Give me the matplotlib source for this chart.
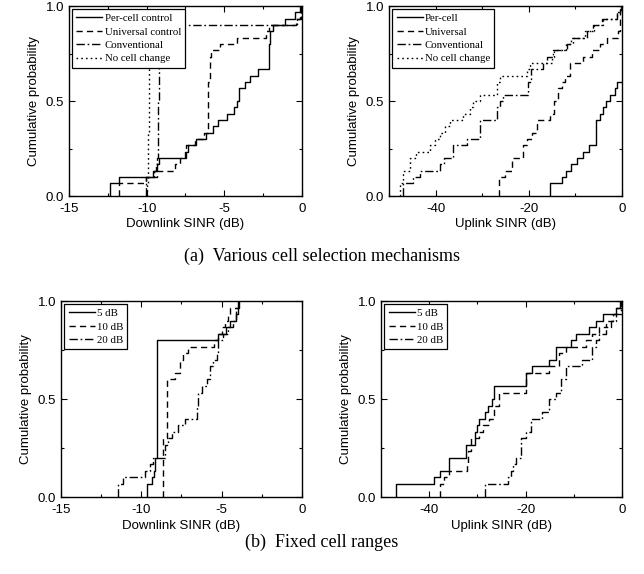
import numpy as np
import matplotlib
matplotlib.use('Agg')
import matplotlib.pyplot as plt
from matplotlib.ticker import MultipleLocator, FormatStrFormatter

plt.rcParams['font.family'] = 'Liberation Sans'
plt.rcParams['axes.unicode_minus'] = False

# (a) Downlink SINR, various cell selection mechanisms
dl_percell_x = [-12.35, -11.8, -9.6, -9.35, -9.2, -7.55, -7.35, -6.85, -6.2, -5.75, -5.4, -4.85,
                -4.35, -4.2, -4.05, -3.7, -3.35, -2.85, -2.15, -2.05, -1.85, -1.1, -0.45, -0.05]
dl_percell_y = [0.067, 0.1, 0.133, 0.167, 0.2, 0.233, 0.267, 0.3, 0.333, 0.367, 0.4, 0.433,
                0.467, 0.5, 0.567, 0.6, 0.633, 0.667, 0.8, 0.867, 0.9, 0.933, 0.967, 1.0]
dl_universal_x = [-11.8, -10.05, -9.35, -8.15, -7.85, -7.45, -6.9, -6.3, -6.05, -5.95, -5.85, -5.3,
                  -4.2, -2.35, -2.1, -0.4, -0.1]
dl_universal_y = [0.067, 0.1, 0.133, 0.167, 0.2, 0.267, 0.3, 0.333, 0.6, 0.733, 0.767, 0.8,
                  0.833, 0.867, 0.9, 0.933, 1.0]
dl_conv_x = [-10.05, -9.55, -9.4, -9.3, -9.28, -9.26, -9.24, -9.22, -9.2, -9.18, -9.15, -0.35, -0.05]
dl_conv_y = [0.1, 0.133, 0.167, 0.2, 0.3, 0.4, 0.5, 0.6, 0.7, 0.8, 0.9, 0.933, 1.0]
dl_nochange_x = [-9.95, -9.93, -9.9, -9.88, -9.86, -9.84, -9.82, -9.8, -9.78]
dl_nochange_y = [0.067, 0.133, 0.2, 0.333, 0.5, 0.667, 0.8, 0.9, 1.0]

# (a) Uplink SINR
ul_percell_x = [-15.5, -12.9, -12.1, -11.0, -9.6, -8.3, -7.0, -5.6, -5.5, -4.7, -4.0, -3.4,
                -2.6, -1.5, -1.0, -0.2, 2.0]
ul_percell_y = [0.067, 0.1, 0.133, 0.167, 0.2, 0.233, 0.267, 0.333, 0.4, 0.433, 0.467, 0.5,
                0.533, 0.567, 0.6, 0.6, 1.0]
ul_universal_x = [-26.4, -25.1, -23.7, -21.2, -20.4, -19.4, -18.3, -15.5, -14.7, -13.7, -12.9,
                  -12.2, -11.2, -8.4, -6.5, -4.7, -3.3, -0.8, -0.4]
ul_universal_y = [0.1, 0.133, 0.2, 0.267, 0.3, 0.333, 0.4, 0.433, 0.5, 0.567, 0.6,
                  0.633, 0.7, 0.733, 0.767, 0.8, 0.833, 0.867, 1.0]
ul_conv_x = [-46.9, -44.8, -43.3, -39.1, -38.3, -36.2, -33.3, -30.5, -26.9, -26.2, -25.5,
             -20.1, -19.6, -16.9, -16.2, -14.8, -11.9, -10.9, -7.6, -6.2, -4.4, -1.2, -0.3]
ul_conv_y = [0.067, 0.1, 0.133, 0.167, 0.2, 0.267, 0.3, 0.4, 0.467, 0.5, 0.533,
             0.6, 0.667, 0.7, 0.733, 0.767, 0.8, 0.833, 0.867, 0.9, 0.933, 0.967, 1.0]
ul_nochange_x = [-47.6, -46.9, -45.5, -44.1, -41.2, -40.1, -39.1, -38.0, -36.9, -34.1, -32.6,
                 -31.9, -30.5, -26.9, -26.2, -20.5, -19.8, -15.1, -14.6, -12.0, -10.5, -8.0,
                 -6.0, -4.2, -1.0, -0.2]
ul_nochange_y = [0.067, 0.133, 0.2, 0.233, 0.267, 0.3, 0.333, 0.367, 0.4, 0.433, 0.467,
                 0.5, 0.533, 0.6, 0.633, 0.667, 0.7, 0.733, 0.767, 0.8, 0.833, 0.867,
                 0.9, 0.933, 0.967, 1.0]

# (b) Downlink SINR, fixed cell ranges
dl5_x = [-9.63, -9.36, -9.2, -9.15, -9.05, -5.22, -4.7, -4.5, -4.08, -3.98, -3.9]
dl5_y = [0.067, 0.1, 0.133, 0.2, 0.8, 0.833, 0.867, 0.9, 0.933, 0.967, 1.0]
dl10_x = [-8.63, -8.42, -7.9, -7.6, -7.39, -7.07, -5.5, -5.2, -5.0, -4.8, -4.59, -4.45, -4.0]
dl10_y = [0.3, 0.6, 0.633, 0.7, 0.733, 0.767, 0.8, 0.833, 0.867, 0.9, 0.933, 0.967, 1.0]
dl20_x = [-11.43, -11.12, -9.77, -9.46, -9.25, -8.52, -8.32, -8.11, -7.7, -7.28, -6.55, -6.45,
          -6.24, -5.93, -5.72, -5.52, -5.31, -5.2, -4.9, -4.6, -4.3, -4.1, -3.95]
dl20_y = [0.067, 0.1, 0.133, 0.167, 0.2, 0.267, 0.3, 0.333, 0.367, 0.4, 0.467, 0.533,
          0.567, 0.6, 0.667, 0.7, 0.733, 0.8, 0.833, 0.867, 0.9, 0.967, 1.0]

# (b) Uplink SINR
ul5_x = [-46.8, -39.0, -37.7, -35.8, -32.4, -30.4, -30.0, -29.6, -28.4, -27.7, -27.0, -26.5,
         -19.9, -18.7, -15.1, -13.7, -10.6, -9.6, -6.8, -5.4, -4.0, -1.2, -0.4]
ul5_y = [0.067, 0.1, 0.133, 0.2, 0.267, 0.333, 0.367, 0.4, 0.433, 0.467, 0.5, 0.567,
         0.633, 0.667, 0.7, 0.767, 0.8, 0.833, 0.867, 0.9, 0.933, 0.967, 1.0]
ul10_x = [-37.7, -36.9, -35.8, -32.2, -31.9, -31.3, -29.6, -28.9, -27.5, -26.5, -25.5,
          -19.9, -15.1, -13.0, -11.6, -7.5, -6.1, -4.7, -3.3, -1.9, -1.2, -0.2]
ul10_y = [0.067, 0.1, 0.133, 0.167, 0.233, 0.3, 0.333, 0.367, 0.4, 0.467, 0.533,
          0.633, 0.667, 0.733, 0.767, 0.8, 0.833, 0.867, 0.9, 0.933, 0.967, 1.0]
ul20_x = [-28.4, -23.6, -23.0, -22.5, -22.0, -21.0, -19.9, -18.9, -16.5, -15.1, -13.7, -12.7,
          -11.6, -8.2, -6.1, -5.4, -4.7, -3.3, -2.3, -1.2, -0.2]
ul20_y = [0.067, 0.1, 0.133, 0.167, 0.2, 0.3, 0.333, 0.4, 0.433, 0.5, 0.533, 0.6,
          0.667, 0.7, 0.767, 0.8, 0.833, 0.867, 0.9, 0.933, 1.0]

estilos = {
    'solid': dict(linestyle='-'),
    'dash': dict(linestyle=(0, (4.5, 3))),
    'dashdot': dict(linestyle=(0, (6, 2, 1.2, 2))),
    'dot': dict(linestyle=(0, (1.2, 2.2))),
}

serif = 'Liberation Serif'


def degrau(ax, x, y, estilo, rotulo):
    """Curva CDF em degraus, começando em zero."""
    ax.plot(np.r_[x[0], x], np.r_[0, y], drawstyle='steps-post', color='black',
            lw=1.0, label=rotulo, **estilos[estilo])


def formatar(ax, xlim, xmaior, xmenor, xlabel):
    ax.set_xlim(*xlim)
    ax.set_ylim(0, 1)
    ax.xaxis.set_major_locator(MultipleLocator(xmaior))
    ax.xaxis.set_minor_locator(MultipleLocator(xmenor))
    ax.yaxis.set_major_locator(MultipleLocator(0.5))
    ax.yaxis.set_minor_locator(MultipleLocator(0.25))
    ax.yaxis.set_major_formatter(FormatStrFormatter('%.1f'))
    ax.xaxis.set_major_formatter(FormatStrFormatter('%d'))
    ax.tick_params(which='both', direction='in', top=True, right=True, labelsize=9.5,
                   width=0.8)
    ax.tick_params(which='major', length=4)
    ax.tick_params(which='minor', length=2.5)
    ax.tick_params(axis='x', pad=5)
    for s in ax.spines.values():
        s.set_linewidth(1.0)
    ax.set_xlabel(xlabel, fontsize=9.5, labelpad=2.5)
    ax.set_ylabel('Cumulative probability', fontsize=9.5, labelpad=4)
    leg = ax.legend(loc='upper left', prop={'family': serif, 'size': 7.8},
                    handlelength=2.4, handletextpad=0.2, borderpad=0.4,
                    labelspacing=0.35, borderaxespad=0.3, fancybox=False, framealpha=1)
    leg.get_frame().set_edgecolor('black')
    leg.get_frame().set_linewidth(0.9)


fig = plt.figure(figsize=(6.44, 5.74), dpi=100)

ax1 = fig.add_axes([0.107, 0.6585, 0.362, 0.331])
degrau(ax1, dl_percell_x, dl_percell_y, 'solid', 'Per-cell control')
degrau(ax1, dl_universal_x, dl_universal_y, 'dash', 'Universal control')
degrau(ax1, dl_conv_x, dl_conv_y, 'dashdot', 'Conventional')
degrau(ax1, dl_nochange_x, dl_nochange_y, 'dot', 'No cell change')
formatar(ax1, (-15, 0), 5, 2.5, 'Downlink SINR (dB)')

ax2 = fig.add_axes([0.604, 0.6585, 0.362, 0.331])
degrau(ax2, ul_percell_x, ul_percell_y, 'solid', 'Per-cell')
degrau(ax2, ul_universal_x, ul_universal_y, 'dash', 'Universal')
degrau(ax2, ul_conv_x, ul_conv_y, 'dashdot', 'Conventional')
degrau(ax2, ul_nochange_x, ul_nochange_y, 'dot', 'No cell change')
formatar(ax2, (-50, 0), 20, 10, 'Uplink SINR (dB)')

ax3 = fig.add_axes([0.0947, 0.134, 0.374, 0.3415])
degrau(ax3, dl5_x, dl5_y, 'solid', '5 dB')
degrau(ax3, dl10_x, dl10_y, 'dash', '10 dB')
degrau(ax3, dl20_x, dl20_y, 'dashdot', '20 dB')
formatar(ax3, (-15, 0), 5, 2.5, 'Downlink SINR (dB)')

ax4 = fig.add_axes([0.5916, 0.134, 0.374, 0.3415])
degrau(ax4, ul5_x, ul5_y, 'solid', '5 dB')
degrau(ax4, ul10_x, ul10_y, 'dash', '10 dB')
degrau(ax4, ul20_x, ul20_y, 'dashdot', '20 dB')
formatar(ax4, (-50, 0), 20, 10, 'Uplink SINR (dB)')

fig.text(0.5, 0.554, '(a)  Various cell selection mechanisms', ha='center', va='center',
         family=serif, fontsize=13)
fig.text(0.5, 0.056, '(b)  Fixed cell ranges', ha='center', va='center',
         family=serif, fontsize=13)

fig.savefig('out.png', dpi=100)
